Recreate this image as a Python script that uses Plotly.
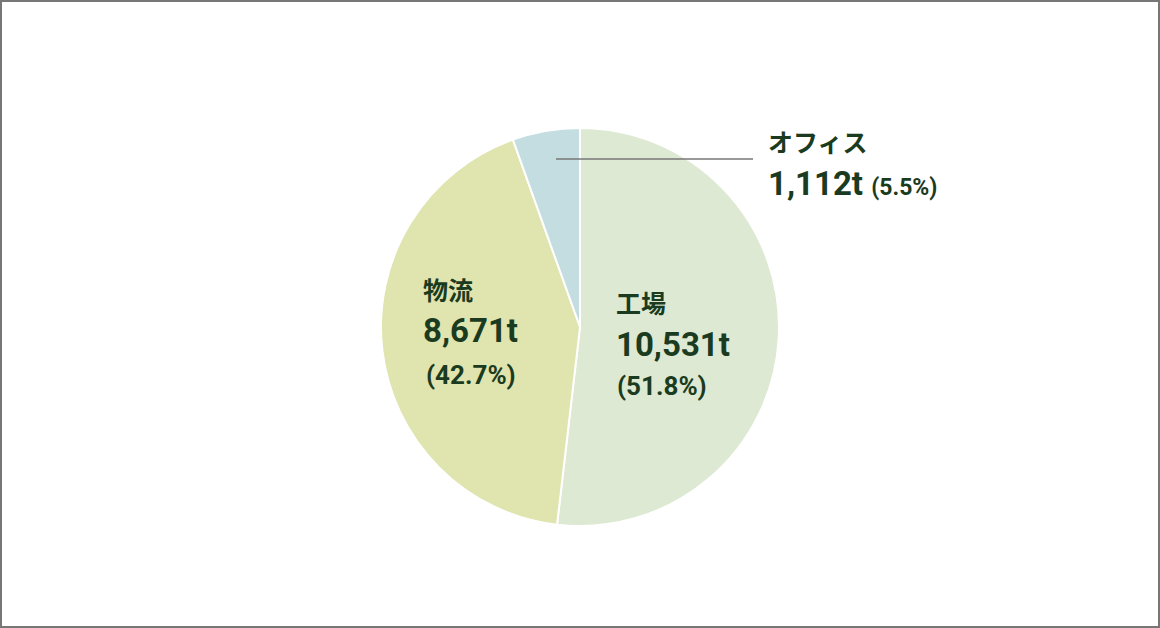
import plotly.graph_objects as go

categories = ["工場", "物流", "オフィス"]
values = [10531, 8671, 1112]
percents = ["51.8%", "42.7%", "5.5%"]
colors = ["#dde9d2", "#e0e4ae", "#c4dde0"]

W, H = 1160, 628
cx, cy, r = 580, 327, 199
TXT = "#1b3b20"
FONT = "Roboto, 'Noto Sans CJK JP', sans-serif"

fig = go.Figure(go.Pie(
    labels=categories, values=values, sort=False, direction="clockwise", rotation=0,
    marker=dict(colors=colors, line=dict(color="white", width=2)),
    textinfo="none", hoverinfo="label+value+percent",
    domain=dict(x=[(cx - r) / W, (cx + r) / W], y=[(H - cy - r) / H, (H - cy + r) / H]),
    showlegend=False,
))

def px(x):
    return x / W

def py(y):
    return 1 - y / H

def ann(x, y, text, size):
    fig.add_annotation(x=px(x), y=py(y), xref="paper", yref="paper", text=text,
                       showarrow=False, xanchor="left", yanchor="middle",
                       font=dict(family=FONT, size=size, color=TXT, weight="bold"))

def fmt(v):
    return f"{v:,}t"

# 工場
ann(614, 305, categories[0], 25)
ann(614, 344, fmt(values[0]), 33)
ann(615, 386, f"({percents[0]})", 26)
# 物流
ann(421, 291, categories[1], 25)
ann(421, 330, fmt(values[1]), 33)
ann(424, 375, f"({percents[1]})", 26)
# オフィス
ann(766, 143, categories[2], 25)
fig.add_annotation(x=px(766), y=py(184), xref="paper", yref="paper",
                   text=f"{fmt(values[2])} <span style='font-size:23px'>({percents[2]})</span>",
                   showarrow=False, xanchor="left", yanchor="middle",
                   font=dict(family=FONT, size=33, color=TXT, weight="bold"))

fig.add_shape(type="line", xref="paper", yref="paper", x0=px(556), x1=px(753),
              y0=py(159), y1=py(159), line=dict(color="#777777", width=1.5))
fig.add_shape(type="rect", xref="paper", yref="paper", x0=px(1), x1=px(W - 1),
              y0=py(H - 1), y1=py(1), line=dict(color="#777777", width=2))

fig.update_layout(width=W, height=H, margin=dict(l=0, r=0, t=0, b=0),
                  paper_bgcolor="white", plot_bgcolor="white")
fig.write_html("out.html", config={"displayModeBar": False},
               post_script="document.body.style.margin='0';document.body.style.overflow='hidden';")
